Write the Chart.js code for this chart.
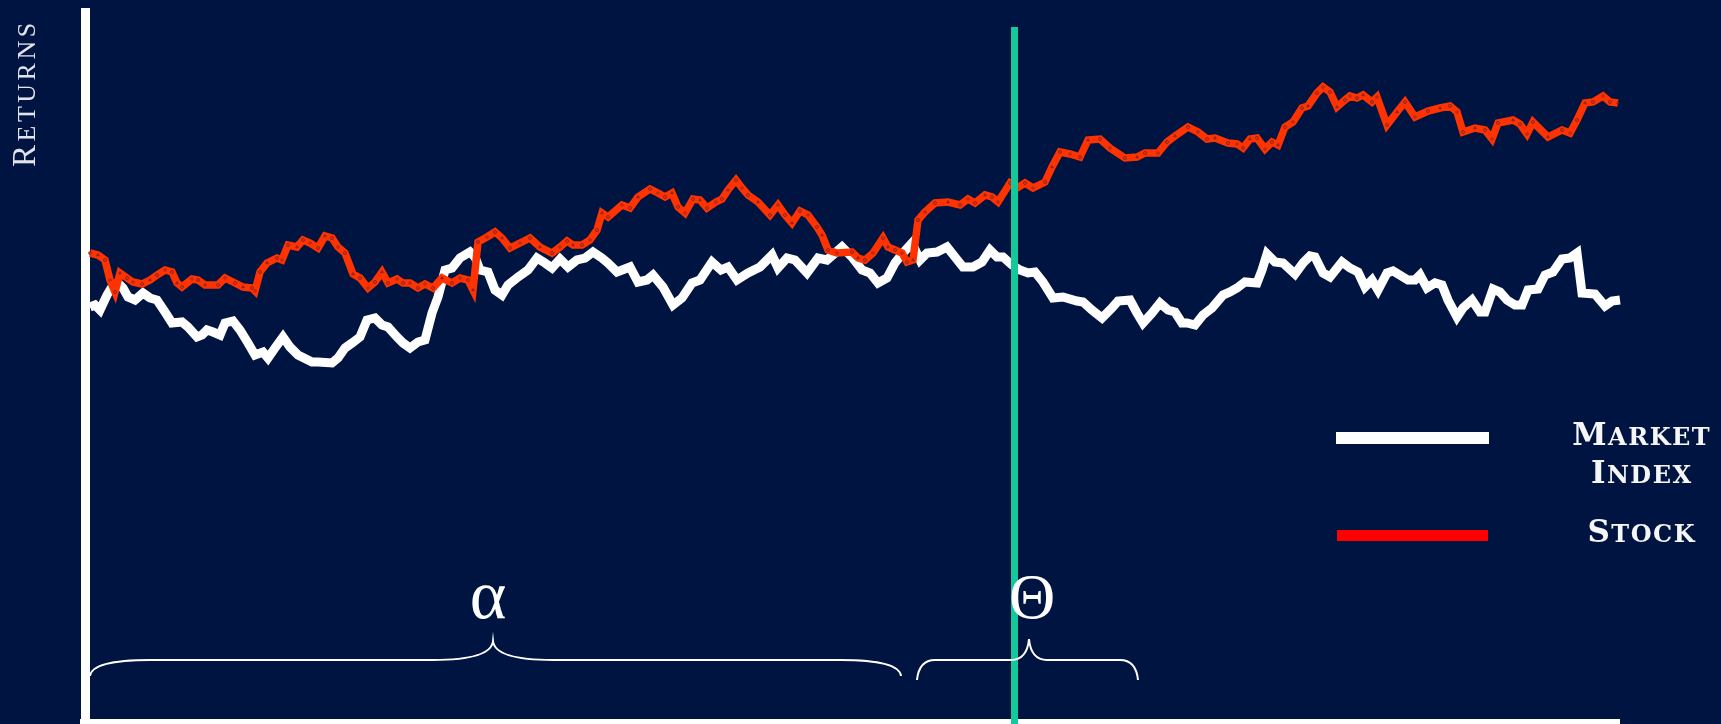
<!DOCTYPE html>
<html>
<head>
<meta charset="utf-8">
<title>Returns</title>
<script src="https://cdn.jsdelivr.net/npm/chart.js@4.4.1/dist/chart.umd.min.js"></script>
<style>
    html, body { margin: 0; padding: 0; background: #001442; overflow: hidden; }
    #wrap { width: 1721px; height: 724px; position: relative; }
</style>
</head>
<body>
<div id="wrap"><canvas id="chart-returns"></canvas></div>
<script>
// Market index path (x = trading day, y = cumulative return)
const marketDays = [
    0.2,0.7,1.2,1.9,2.5,3.0,3.5,4.0,4.7,5.5, 6.2,6.9,7.7,8.4,9.4,10.0,10.9,11.4,11.9,12.5,
    13.2,13.7,14.5,15.2,16.0,16.7,17.5,18.0,18.7,19.5, 20.2,21.0,22.4,23.0,24.4,25.0,25.7,26.4,27.2,27.9,
    28.7,29.4,30.0,30.9,31.5,32.2,33.0,33.7,34.4,35.0, 35.7,36.4,37.2,38.2,38.7,39.2,40.0,40.7,41.4,42.0,
    43.0,44.0,44.9,45.7,46.4,47.2,48.0,48.9,49.7,50.5, 51.4,52.0,52.9,54.2,55.0,55.9,56.5,57.5,58.5,59.4,
    60.4,61.2,62.4,63.3,64.0,64.9,66.0,67.2,68.4,69.0, 69.9,70.7,71.9,73.0,73.9,75.4,76.4,77.4,78.2,79.0,
    79.9,80.7,81.5,82.4,83.2,83.9,84.9,85.9,86.7,87.5, 88.5,89.4,90.2,90.9,91.5,92.4,93.2,94.0,94.7,95.5,
    96.5,97.5,98.9,99.5,100.4,101.4,102.4,103.0,104.2,104.9, 105.5,106.4,107.2,108.0,108.7,109.4,109.9,110.7,111.5,112.4,
    113.5,114.2,114.9,115.7,116.9,117.4,117.9,118.7,119.5,120.7, 121.5,122.2,122.7,123.5,124.2,125.4,126.2,127.0,127.7,128.4,
    129.0,129.9,130.5,132.0,132.7,133.2,133.9,134.7,135.4,136.0, 136.9,137.5,138.4,139.2,139.7,140.5,141.2,141.9,142.7,143.4,
    144.0,145.0,145.7,146.5,147.4,148.2,148.9,149.4,150.7,151.7, 152.4,153.2
];
const marketReturns = [
    9.3,9.5,9.0,10.5,11.5,11.7,11.2,10.3,10.0,10.7, 10.2,10.0,8.8,7.7,7.8,7.3,6.3,6.5,7.0,6.8,
    6.5,7.7,7.9,7.0,5.7,4.5,4.8,4.2,5.2,6.3, 5.3,4.5,3.8,3.8,3.7,4.2,5.2,5.7,6.3,8.0,
    8.2,7.5,7.3,6.3,5.7,5.2,5.8,6.0,8.7,10.3, 13.0,13.2,14.2,14.8,14.3,13.0,12.8,11.0,10.5,11.5,
    12.3,13.0,14.2,13.7,13.2,14.1,13.3,14.0,14.2,14.8, 14.2,13.7,12.8,13.3,11.8,12.0,12.5,11.3,9.5,10.2,
    11.7,12.0,13.8,13.0,13.3,12.0,12.7,13.3,14.5,13.2, 14.2,14.0,12.7,14.2,14.0,15.3,14.3,13.0,12.7,11.7,
    12.2,13.7,14.7,15.7,14.0,14.7,14.8,15.3,14.3,13.3, 13.3,13.8,15.0,14.3,14.3,13.5,13.0,12.7,12.8,11.8,
    10.2,10.3,9.9,9.8,9.0,8.2,9.2,9.9,10.0,8.7, 7.7,8.7,9.7,9.0,8.8,7.7,7.7,7.5,8.5,9.2,
    10.5,10.8,11.2,11.8,11.7,13.0,14.6,13.8,13.7,12.6, 13.7,14.4,14.3,12.7,12.3,13.8,13.2,12.8,11.3,12.0,
    11.0,12.7,12.9,12.0,12.0,12.5,11.2,11.7,11.5,10.0, 8.3,9.2,10.0,8.8,8.8,11.1,10.8,10.0,9.5,9.5,
    11.0,11.1,12.5,12.8,14.1,14.2,14.7,10.7,10.6,9.4, 9.9,10.0
];

// Stock path
const stockDays = [
    0.2,1.0,1.7,2.2,2.7,3.2,3.9,4.5,5.4,6.2, 6.9,7.7,8.4,8.9,9.4,10.4,11.0,11.7,13.0,13.7,
    14.7,15.5,16.4,16.7,17.2,17.9,18.9,19.4,20.0,20.9, 21.5,22.2,23.0,23.7,24.4,25.0,25.7,26.5,27.2,28.0,
    28.7,29.4,30.0,30.9,31.5,32.2,33.0,33.7,34.5,35.4, 36.4,37.2,38.0,38.5,39.0,39.9,40.7,41.4,42.2,43.2,
    44.2,45.2,46.4,47.2,47.9,48.5,49.4,50.2,50.9,51.4, 52.0,53.4,54.2,55.0,56.2,57.0,57.7,58.4,59.0,59.7,
    60.5,61.2,61.9,62.8,63.4,64.0,64.8,65.4,66.0,67.0, 68.2,69.0,69.7,70.4,71.2,72.0,72.9,73.4,74.0,74.9,
    76.4,77.0,77.7,78.5,79.5,80.0,80.7,81.4,81.9,82.5, 83.0,83.7,84.7,86.0,87.2,88.0,88.7,89.7,90.4,91.0,
    92.2,92.9,93.7,94.5,95.7,96.4,97.2,98.2,99.2,100.0, 101.2,102.2,103.7,104.9,105.7,107.0,107.9,108.7,110.0,111.0,
    111.9,112.7,114.0,114.9,115.5,116.2,116.9,117.7,118.4,119.0, 119.7,120.5,121.4,122.0,122.9,123.5,124.2,124.9,125.7,126.2,
    126.9,127.5,128.4,128.9,129.9,130.9,131.7,132.7,134.0,135.2, 136.2,136.9,137.5,138.7,139.7,140.4,141.0,142.5,143.2,143.9,
    144.5,146.0,147.4,148.2,148.9,149.7,150.5,151.5,152.2,153.0
];
const stockReturns = [
    14.7,14.5,14.0,12.0,10.8,12.7,12.2,11.8,11.6,12.0, 12.5,13.0,12.8,11.7,11.3,12.1,12.0,11.5,11.5,12.2,
    11.7,11.3,11.2,10.9,12.8,13.7,14.2,14.0,15.5,15.3, 16.0,15.7,15.2,16.4,16.2,15.3,14.7,12.6,12.2,11.2,
    11.8,12.8,11.7,12.1,11.7,11.7,11.2,11.6,11.2,12.2, 11.7,12.2,12.0,11.0,15.8,16.3,16.8,16.2,15.2,15.7,
    16.2,15.3,14.7,15.3,15.9,15.5,15.5,16.0,17.0,18.7, 18.3,19.5,19.2,20.3,21.1,20.7,20.3,20.7,19.3,18.7,
    20.1,20.0,19.2,19.8,20.1,21.0,22.0,21.2,20.5,19.8, 18.5,19.5,18.5,17.7,18.9,18.5,17.3,16.5,15.0,14.7,
    14.8,14.2,14.0,14.7,16.2,15.3,15.0,14.7,13.8,14.0, 18.0,18.8,19.7,19.8,19.5,20.1,19.7,20.5,20.3,19.8,
    21.7,21.2,21.7,21.2,21.8,23.3,24.8,24.6,24.3,26.0, 26.1,25.2,24.2,24.3,24.7,24.7,25.8,26.4,27.3,26.8,
    26.1,26.2,25.7,25.6,25.2,26.1,26.2,25.1,25.8,25.5, 27.3,27.8,29.2,29.4,30.7,31.3,30.8,29.3,30.0,30.4,
    30.2,30.5,29.8,30.3,27.5,28.8,29.8,28.3,28.9,29.2, 29.4,28.8,26.8,27.2,27.0,26.1,27.7,28.0,27.6,26.6,
    27.8,26.3,27.0,26.7,28.0,29.7,29.8,30.4,29.8,29.7
];

// Annotation anchors, in data units
const splitDay = 92.65;            // green event line
const splitTop = 37.3;
const alphaWindow = [0.2, 40.5, 81.3];   // start, tip, end
const thetaWindow = [82.9, 94.1, 105.0];
const braceLevels = { line: -26.0, tip: -24.3, end: -27.6 };
const greekLabels = [
    { text: 'α', day: 40.0 },
    { text: 'Θ', day: 94.4 }
];
const greekBase = -21.8;

// Draws a word in small caps: first letter large, the rest smaller capitals
function drawSmallCaps(ctx, word, x, y, big, small, family, weight, gap, align) {
    const glyphs = [...word].map((ch, i) => {
        const size = i === 0 ? big : small;
        ctx.font = `${weight} ${size}px ${family}`;
        const up = ch.toUpperCase();
        return { ch: up, size, w: ctx.measureText(up).width };
    });
    const total = glyphs.reduce((s, g) => s + g.w, 0) + gap * (glyphs.length - 1);
    let cx = align === 'center' ? x - total / 2 : x;
    ctx.textAlign = 'left';
    ctx.textBaseline = 'alphabetic';
    glyphs.forEach(g => {
        ctx.font = `${weight} ${g.size}px ${family}`;
        ctx.fillText(g.ch, cx, y);
        cx += g.w + gap;
    });
}

function drawBrace(ctx, x1, tipX, x2, yLine, yTip, yEnd, curl, tipCurl) {
    ctx.beginPath();
    ctx.moveTo(x1, yEnd);
    ctx.quadraticCurveTo(x1 + 2, yLine, x1 + curl, yLine);
    ctx.lineTo(tipX - tipCurl, yLine);
    ctx.quadraticCurveTo(tipX - 2, yLine, tipX, yTip);
    ctx.quadraticCurveTo(tipX + 2, yLine, tipX + tipCurl, yLine);
    ctx.lineTo(x2 - curl, yLine);
    ctx.quadraticCurveTo(x2 - 2, yLine, x2, yEnd);
    ctx.stroke();
}

const decorPlugin = {
    id: 'decor',
    beforeDatasetsDraw(chart) {
        const { ctx, chartArea } = chart;
        ctx.save();
        ctx.fillStyle = '#ffffff';
        // axes
        ctx.fillRect(chartArea.left - 9, chartArea.top, 9, chart.height - chartArea.top);
        ctx.fillRect(chartArea.left - 10, chartArea.bottom, chartArea.right - chartArea.left + 10, 5);
        ctx.restore();
    },
    afterDatasetsDraw(chart) {
        const { ctx, scales: { x, y } } = chart;
        ctx.save();

        // event line
        const gx = x.getPixelForValue(splitDay);
        ctx.fillStyle = '#12c99b';
        ctx.fillRect(gx - 3.5, y.getPixelForValue(splitTop), 7, chart.height);

        // braces
        ctx.strokeStyle = '#ffffff';
        ctx.lineWidth = 2;
        const yl = y.getPixelForValue(braceLevels.line);
        const yt = y.getPixelForValue(braceLevels.tip);
        const ye = y.getPixelForValue(braceLevels.end);
        drawBrace(ctx, ...alphaWindow.map(v => x.getPixelForValue(v)), yl, yt - 2, ye, 60, 60);
        drawBrace(ctx, ...thetaWindow.map(v => x.getPixelForValue(v)), yl, yt - 4, ye + 4, 18, 18);

        // greek labels
        ctx.fillStyle = '#ffffff';
        ctx.textAlign = 'center';
        ctx.textBaseline = 'alphabetic';
        greekLabels.forEach((l, i) => {
            ctx.font = i === 0 ? '70px "Liberation Serif", serif' : '64px "Liberation Serif", serif';
            ctx.fillText(l.text, x.getPixelForValue(l.day), y.getPixelForValue(greekBase));
        });

        // legend
        ctx.fillStyle = '#ffffff';
        ctx.fillRect(1336, 432, 153, 12);
        ctx.fillStyle = '#ff0000';
        ctx.fillRect(1337, 530, 151, 11);
        ctx.fillStyle = '#f6f6f6';
        const lf = '"DejaVu Serif", serif';
        drawSmallCaps(ctx, 'Market', 1641, 445, 31, 24, lf, 'bold', 1.5, 'center');
        drawSmallCaps(ctx, 'Index', 1641, 483, 31, 24, lf, 'bold', 1.5, 'center');
        drawSmallCaps(ctx, 'Stock', 1641, 542, 31, 24, lf, 'bold', 1.5, 'center');

        // y axis title
        ctx.fillStyle = '#e2e4ea';
        ctx.translate(35, 167);
        ctx.rotate(-Math.PI / 2);
        drawSmallCaps(ctx, 'Returns', 0, 0, 33, 26, '"Liberation Serif", serif', 'normal', 3.5, 'left');
        ctx.restore();
    }
};

const ReturnsChart = {
    init() {
        const ctx = document.getElementById('chart-returns').getContext('2d');
        const market = marketDays.map((d, i) => ({ x: d, y: marketReturns[i] }));
        const stock = stockDays.map((d, i) => ({ x: d, y: stockReturns[i] }));
        const markerStyles = ['circle', 'triangle', 'circle', 'rectRot'];

        new Chart(ctx, {
            type: 'line',
            data: {
                datasets: [
                    {
                        label: 'Stock',
                        data: stock,
                        order: 1,
                        borderColor: '#ff3300',
                        borderWidth: 7.5,
                        tension: 0,
                        pointRadius: 1.5,
                        pointStyle: stock.map((_, i) => markerStyles[i % markerStyles.length]),
                        pointBorderWidth: 1,
                        pointBorderColor: 'rgba(0, 20, 66, 0.45)',
                        pointBackgroundColor: '#ff3300',
                        clip: false
                    },
                    {
                        label: 'Market Index',
                        data: market,
                        order: 2,
                        borderColor: '#ffffff',
                        borderWidth: 9,
                        tension: 0,
                        pointRadius: 0,
                        clip: false
                    }
                ]
            },
            options: {
                responsive: true,
                maintainAspectRatio: false,
                animation: false,
                devicePixelRatio: 1,
                layout: { padding: { left: 90, right: 101, top: 8, bottom: 5 } },
                scales: {
                    x: { type: 'linear', min: 0.2, max: 153.2, display: false },
                    y: { min: -31.9, max: 39.2, display: false }
                },
                plugins: {
                    legend: { display: false },
                    tooltip: { enabled: false }
                }
            },
            plugins: [decorPlugin]
        });
    }
};

ReturnsChart.init();
</script>
</body>
</html>
